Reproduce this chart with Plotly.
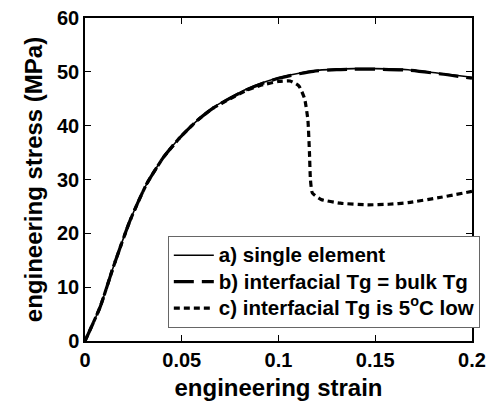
import plotly.graph_objects as go

strain_a = [0, 0.0078, 0.0146, 0.0233, 0.0319, 0.0405, 0.0491, 0.0578, 0.0664, 0.075,
            0.0836, 0.092, 0.1, 0.106, 0.118, 0.13, 0.139, 0.15, 0.167, 0.184, 0.2]
stress_a = [0, 6.3, 13.7, 22.4, 29.2, 34.1, 37.8, 40.9, 43.4, 45.2,
            46.8, 48.0, 48.9, 49.4, 50.2, 50.5, 50.6, 50.6, 50.4, 49.7, 49.0]

strain_b = strain_a
stress_b = [0, 6.3, 13.7, 22.4, 29.2, 34.1, 37.8, 40.9, 43.3, 45.1,
            46.7, 47.9, 48.8, 49.3, 50.1, 50.4, 50.5, 50.5, 50.3, 49.6, 48.8]

strain_c = [0, 0.0078, 0.0146, 0.0233, 0.0319, 0.0405, 0.0491, 0.0578, 0.0664, 0.075,
            0.0836, 0.092, 0.1, 0.106, 0.1105, 0.1135, 0.1152, 0.116, 0.1165, 0.1175,
            0.122, 0.132, 0.146, 0.157, 0.167, 0.184, 0.2]
stress_c = [0, 6.3, 13.7, 22.4, 29.2, 34.1, 37.8, 40.9, 43.3, 45.0,
            46.6, 47.6, 48.2, 48.3, 47.4, 45.0, 41.0, 35.0, 30.0, 27.5,
            26.3, 25.6, 25.3, 25.4, 25.7, 26.7, 27.8]

labels = ["a) single element", "b) interfacial Tg = bulk Tg",
          "c) interfacial Tg is 5<sup>o</sup>C low"]

fig = go.Figure()
names = ['<span style="font-size:20.5px">' + s + '</span>' for s in labels]
fig.add_trace(go.Scatter(x=strain_a, y=stress_a, mode="lines", name=names[0],
                         line=dict(color="black", width=1.6, shape="spline", smoothing=0.6)))
fig.add_trace(go.Scatter(x=strain_b, y=stress_b, mode="lines", name=names[1],
                         line=dict(color="black", width=3.2, dash="20px,8px", shape="spline", smoothing=0.6)))
fig.add_trace(go.Scatter(x=strain_c, y=stress_c, mode="lines", name=names[2],
                         line=dict(color="black", width=3.2, dash="6px,4px", shape="spline", smoothing=0.5)))

font = "Liberation Sans, Arial, sans-serif"
axis_common = dict(showline=True, linecolor="black", linewidth=1.5, mirror="ticks",
                   ticks="inside", ticklen=6, tickwidth=1.2, tickcolor="black",
                   showgrid=False, zeroline=False, automargin=False,
                   tickfont=dict(family=font, size=20, color="black", weight="bold"))

fig.update_xaxes(range=[0, 0.2], dtick=0.05,
                 title=dict(text="engineering strain", standoff=11,
                            font=dict(family=font, size=24, color="black", weight="bold")),
                 **axis_common)
fig.update_yaxes(range=[0, 60], dtick=10,
                 title=dict(text="engineering stress (MPa)", standoff=8,
                            font=dict(family=font, size=24, color="black", weight="bold")),
                 **axis_common)

fig.update_layout(
    width=486, height=401,
    margin=dict(l=85, r=14, t=18, b=60, autoexpand=False),
    plot_bgcolor="white", paper_bgcolor="white",
    showlegend=True,
    legend=dict(x=0.214, y=0.325, xanchor="left", yanchor="top",
                bgcolor="white", bordercolor="#666666", borderwidth=1,
                font=dict(family=font, size=18, color="black", weight="bold"),
                tracegroupgap=0, itemwidth=40),
)

fig.write_html("out.html")
